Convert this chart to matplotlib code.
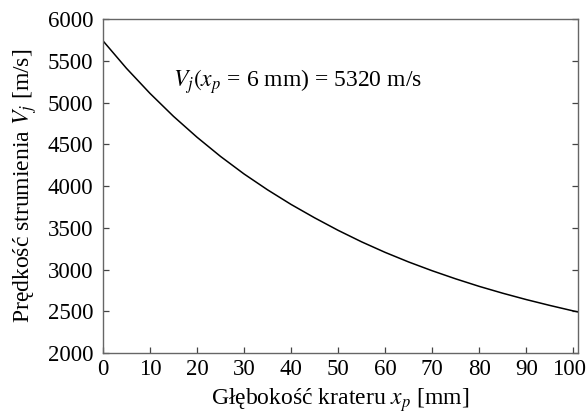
import numpy as np
import matplotlib
matplotlib.use("Agg")
import matplotlib.pyplot as plt
import matplotlib.transforms as mtransforms

plt.rcParams['font.family'] = ['Liberation Serif', 'DejaVu Serif']
plt.rcParams['mathtext.fontset'] = 'stix'

# glebokosc krateru [mm] i predkosc strumienia [m/s]
depth = [0, 5, 10, 15, 20, 25, 30, 35, 40, 45, 50, 55, 60, 65, 70, 75, 80, 85, 90, 95, 100, 101]
velocity = [5740, 5410, 5110, 4835, 4585, 4355, 4145, 3955, 3780, 3620, 3470,
            3332, 3206, 3091, 2986, 2889, 2799, 2717, 2641, 2571, 2505, 2493]

x_ticks = np.arange(0, 101, 10)
y_ticks = np.arange(2000, 6001, 500)

fig = plt.figure(figsize=(5.88, 4.13), dpi=100)
ax = fig.add_axes([0.175, 0.145, 0.808, 0.809])

ax.plot(depth, velocity, color="black", lw=1.1)

ax.set_xlim(0, 101)
ax.set_ylim(2000, 6000)
ax.set_xticks(x_ticks)
ax.set_yticks(y_ticks)

for s in ax.spines.values():
    s.set_color("#666666")
    s.set_linewidth(1.0)
ax.tick_params(direction="in", length=4, width=0.9, color="#444444",
               labelsize=16.5, left=True, right=True, top=False, bottom=True)
ax.tick_params(axis="x", pad=4)
ax.tick_params(axis="y", pad=7)

# ostatnia etykieta "100" lekko w lewo, zeby sie miescila
last = ax.get_xticklabels()[-1]
last.set_transform(last.get_transform() + mtransforms.ScaledTranslation(-3 / 72, 0, fig.dpi_scale_trans))

ax.set_xlabel("Głębokość krateru $x_p$ [mm]", fontsize=17, labelpad=5)
ax.set_ylabel("Prędkość strumienia $V_j$ [m/s]", fontsize=17, labelpad=6)

ax.text(14.8, 5250, "$V_j(x_p$ = 6 mm) = 5320 m/s", fontsize=17, va="center", ha="left")

fig.savefig("out.png", dpi=100)
